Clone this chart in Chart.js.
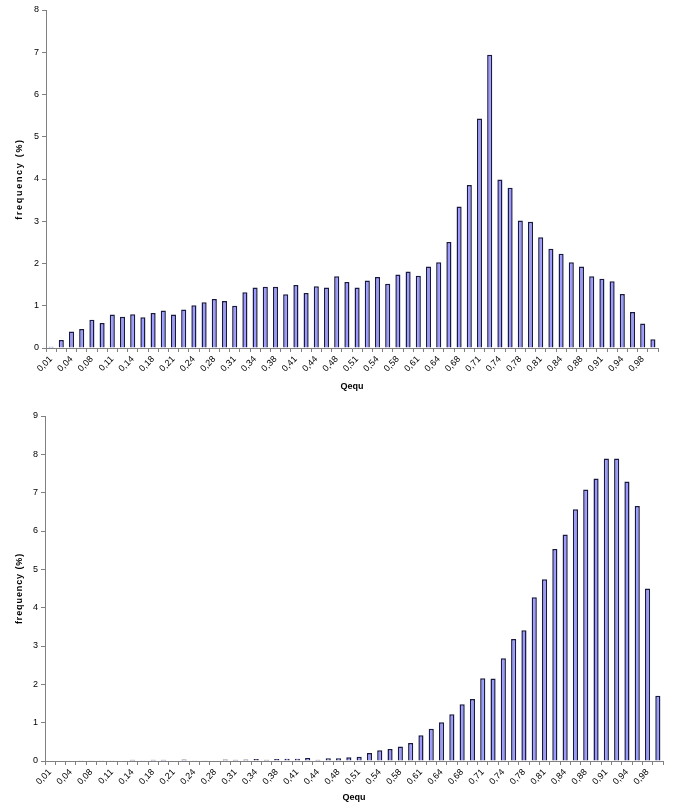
<!DOCTYPE html>
<html>
<head>
<meta charset="utf-8">
<script src="https://cdn.jsdelivr.net/npm/chart.js@4"></script>
<style>
  body { margin: 0; background: #fff; }
  canvas { position: absolute; left: 0; }
</style>
</head>
<body>
<canvas id="chart-top" width="678" height="400" style="top:0"></canvas>
<canvas id="chart-bottom" width="678" height="407" style="top:400px"></canvas>
<script>
// bin labels (Qequ), one per bar; only every other one is shown on the axis
var categories = [
  '0,01', '0,03', '0,04', '0,06', '0,08', '0,09', '0,11', '0,13', '0,14', '0,16',
  '0,18', '0,19', '0,21', '0,23', '0,24', '0,26', '0,28', '0,29', '0,31', '0,33',
  '0,34', '0,36', '0,38', '0,39', '0,41', '0,43', '0,44', '0,46', '0,48', '0,49',
  '0,51', '0,53', '0,54', '0,56', '0,58', '0,59', '0,61', '0,63', '0,64', '0,66',
  '0,68', '0,69', '0,71', '0,73', '0,74', '0,76', '0,78', '0,79', '0,81', '0,83',
  '0,84', '0,86', '0,88', '0,89', '0,91', '0,93', '0,94', '0,96', '0,98', '0,99'
];

// frequency (%) - upper histogram
var freqTop = [
  0.03, 0.19, 0.39, 0.45, 0.67, 0.59, 0.79, 0.74, 0.80, 0.73,
  0.83, 0.89, 0.79, 0.91, 1.01, 1.08, 1.16, 1.11, 1.00, 1.32,
  1.43, 1.45, 1.45, 1.27, 1.49, 1.30, 1.46, 1.43, 1.70, 1.56,
  1.43, 1.60, 1.68, 1.52, 1.74, 1.81, 1.71, 1.93, 2.03, 2.51,
  3.35, 3.86, 5.43, 6.94, 3.99, 3.79, 3.02, 2.99, 2.62, 2.35,
  2.23, 2.03, 1.93, 1.70, 1.64, 1.58, 1.28, 0.85, 0.58, 0.21
];

// frequency (%) - lower histogram
var freqBottom = [
  0, 0, 0, 0.02, 0.02, 0.02, 0.02, 0, 0.03, 0.02,
  0.03, 0.03, 0, 0.04, 0.02, 0.02, 0, 0.04, 0.03, 0.04,
  0.05, 0.03, 0.05, 0.06, 0.06, 0.08, 0.03, 0.07, 0.07, 0.10,
  0.11, 0.21, 0.28, 0.31, 0.38, 0.47, 0.67, 0.84, 1.01, 1.22,
  1.48, 1.62, 2.16, 2.15, 2.68, 3.18, 3.41, 4.27, 4.74, 5.53,
  5.91, 6.57, 7.08, 7.37, 7.89, 7.89, 7.29, 6.65, 4.50, 1.70
];

var FONT = "'Liberation Sans', Arial, sans-serif";
var AXIS = '#808080';

// y title in the original is drawn loosely spaced
var titleSpacing = {
  id: 'titleSpacing',
  afterLayout: function(chart, args, opts) {
    var s = chart.scales.y;
    if (s._spaced) return;
    var orig = s.drawTitle;
    s.drawTitle = function() {
      this.ctx.save();
      this.ctx.letterSpacing = opts.px + 'px';
      orig.call(this);
      this.ctx.restore();
    };
    s._spaced = true;
  }
};

function makeChart(id, values, yMax, o) {
  var ctx = document.getElementById(id).getContext('2d');
  return new Chart(ctx, {
    type: 'bar',
    data: {
      labels: categories,
      datasets: [{
        data: values,
        backgroundColor: '#9999ff',
        borderColor: '#1a1a40',
        borderWidth: 1.5,
        barPercentage: 0.5,
        categoryPercentage: 1
      }]
    },
    options: {
      responsive: false,
      animation: false,
      layout: { padding: { left: 0, top: o.top, right: o.right, bottom: 0 } },
      plugins: {
        legend: { display: false },
        tooltip: { enabled: false },
        titleSpacing: { px: o.spacing }
      },
      scales: {
        x: {
          grid: { offset: true, drawOnChartArea: false, tickLength: 4, color: AXIS },
          border: { color: AXIS },
          ticks: {
            autoSkip: false,
            minRotation: 45,
            maxRotation: 45,
            padding: 2,
            color: '#000',
            font: { family: FONT, size: 9 },
            callback: function(v, i) {
              return i % 2 === 0 ? this.getLabelForValue(v) : '';
            }
          },
          title: {
            display: true,
            text: 'Qequ',
            color: '#000',
            font: { family: FONT, size: 9, weight: 'bold' },
            padding: { top: 0, bottom: o.xTitlePad }
          },
          afterFit: function(s) { s.height = o.xHeight; }
        },
        y: {
          min: 0,
          max: yMax,
          grid: { drawOnChartArea: false, tickLength: 4, color: AXIS },
          border: { color: AXIS },
          ticks: {
            stepSize: 1,
            padding: 3,
            color: '#000',
            font: { family: FONT, size: 9 }
          },
          title: {
            display: true,
            text: 'frequency (%)',
            color: '#000',
            font: { family: FONT, size: 9, weight: 'bold' },
            padding: { top: 14, bottom: 0 }
          },
          afterFit: function(s) { s.width = o.yWidth; }
        }
      }
    },
    plugins: [titleSpacing]
  });
}

window.onload = function() {
  window.topChart = makeChart('chart-top', freqTop, 8,
    { top: 10, right: 20, yWidth: 46, xHeight: 52, xTitlePad: 8, spacing: 1.7 });
  window.bottomChart = makeChart('chart-bottom', freqBottom, 9,
    { top: 16, right: 15, yWidth: 45, xHeight: 46, xTitlePad: 4, spacing: 0.9 });
};
</script>
</body>
</html>
